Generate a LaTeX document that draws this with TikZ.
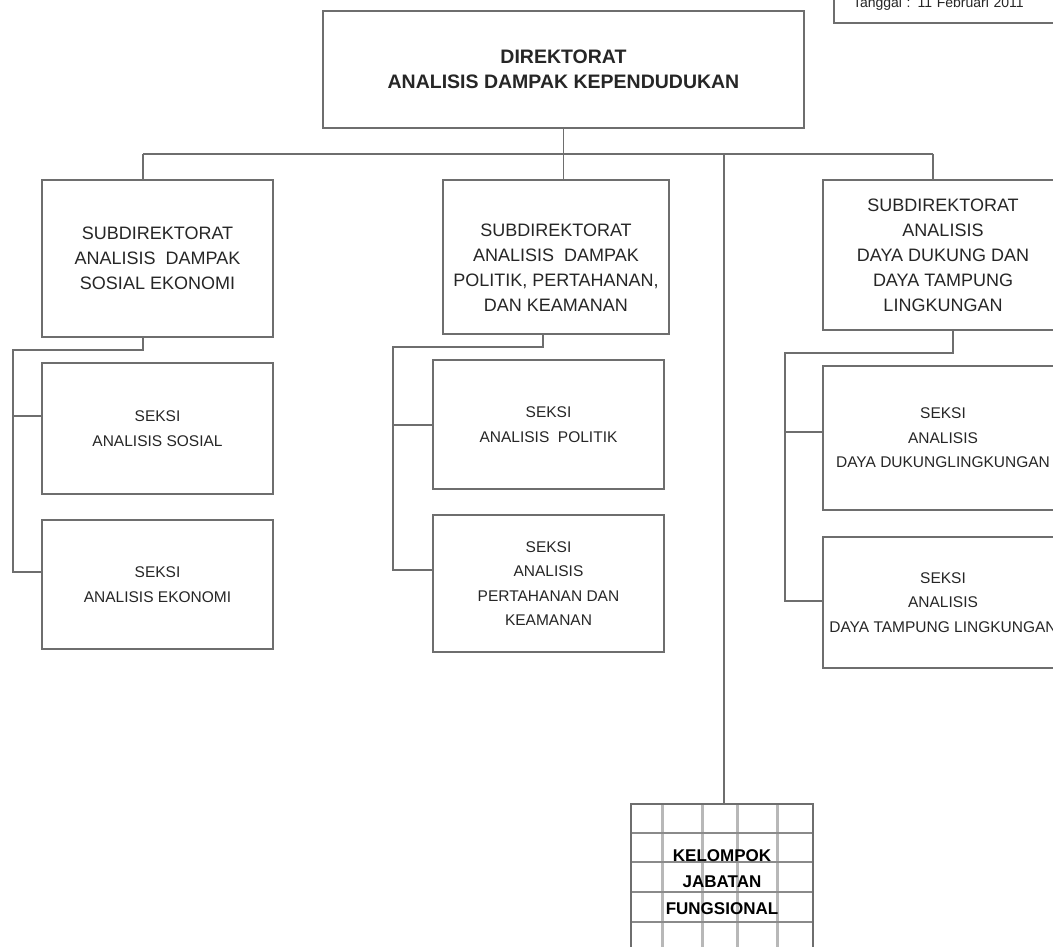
\documentclass[tikz,border=0pt]{standalone}
\usepackage{fontspec}
\setmainfont{Liberation Sans}
\usetikzlibrary{positioning,calc}
\definecolor{lineGray}{HTML}{6E6E6E}
\definecolor{gridGray}{HTML}{B8B8B8}
\definecolor{gridDark}{HTML}{8A8A8A}
\tikzset{
  every picture/.style={line width=1.6pt},
  sbox/.style={draw=lineGray, line width=2pt, inner sep=0pt, align=center, text=black!85},
  sdim/.style 2 args={minimum width=#1pt, minimum height=#2pt},
  sdir/.style={sbox, font=\fontsize{19.5}{25}\selectfont\bfseries},
  ssub/.style={sbox, font=\fontsize{18}{25}\selectfont},
  stxt/.style={inner sep=0pt, align=center, text=black!85},
  sseksi/.style={sbox, font=\fontsize{15.5}{24.5}\selectfont},
  sjab/.style={sbox, font=\fontsize{17}{26.5}\selectfont\bfseries, text=black},
  sline/.style={draw=lineGray, line width=1.7pt},
  sgridv/.style={draw=gridGray, line width=3pt},
  sgridh/.style={draw=gridDark, line width=2pt},
}

\begin{document}
\begin{tikzpicture}[x=1pt, y=-1pt]
\fill[white] (0,0) rectangle (1053,947);
\useasboundingbox (0,0) rectangle (1053,947);
\clip (0,0) rectangle (1053,947);

% date box, cut by the page edge
\node[sbox, anchor=south west, align=left, text width=200pt, inner xsep=19pt,
  minimum height=38pt, font=\fontsize{14}{16}\selectfont] (tgl) at (833,24)
  {Tanggal : 11 Februari 2011};

% head
\node[sdir, sdim={481}{117}] (dir) at (563.5,69.5)
  {DIREKTORAT\\ANALISIS DAMPAK KEPENDUDUKAN};

% subdirektorat
\node[ssub, sdim={231}{157}] (sub1) at (157.5,258.5)
  {SUBDIREKTORAT\\ANALISIS\ \ DAMPAK\\SOSIAL EKONOMI};
\node[ssub, sdim={226}{154}] (sub2) at (556,257) {};
\node[stxt, font=\fontsize{18}{25}\selectfont] (sub2txt) at ($(sub2.center)+(0,11)$)
  {SUBDIREKTORAT\\ANALISIS\ \ DAMPAK\\POLITIK, PERTAHANAN,\\DAN KEAMANAN};
\node[ssub, sdim={240}{150}] (sub3) at (943,255)
  {SUBDIREKTORAT\\ANALISIS\\DAYA DUKUNG DAN\\DAYA TAMPUNG\\LINGKUNGAN};

% seksi
\node[sseksi, sdim={231}{131}] (sk11) at (157.5,428.5) {SEKSI\\ANALISIS SOSIAL};
\node[sseksi, sdim={231}{129}] (sk12) at (157.5,584.5) {SEKSI\\ANALISIS EKONOMI};
\node[sseksi, sdim={231}{129}] (sk21) at (548.5,424.5) {SEKSI\\ANALISIS\ \ POLITIK};
\node[sseksi, sdim={231}{137}] (sk22) at (548.5,583.5)
  {SEKSI\\ANALISIS\\PERTAHANAN DAN\\KEAMANAN};
\node[sseksi, sdim={240}{144}] (sk31) at (943,438)
  {SEKSI\\ANALISIS\\DAYA DUKUNGLINGKUNGAN};
\node[sseksi, sdim={240}{131}] (sk32) at (943,602.5)
  {SEKSI\\ANALISIS\\DAYA TAMPUNG LINGKUNGAN};

% kelompok jabatan fungsional (grid box)
\foreach \gx in {662,702,737,777}
  \draw[sgridv] (\gx,805) -- (\gx,960);
\foreach \gy in {833,862,892,922}
  \draw[sgridh] (631,\gy) -- (813,\gy);
\node[sjab, sdim={182}{156}] (jab) at (722,882)
  {KELOMPOK\\JABATAN\\FUNGSIONAL};

% bus from the head
\coordinate (busL) at (143,154);
\coordinate (busR) at (933,154);
\coordinate (busF) at (724,154);
\draw[sline] (busL) -- (busR);
\draw[sline] (dir.south) -- (dir.south |- busL);
\draw[sline] (busL) -- (busL |- sub1.north);
\draw[sline] (dir.south |- busL) -- (dir.south |- sub2.north);
\draw[sline] (busR) -- (busR |- sub3.north);
\draw[sline] (busF) -- (busF |- jab.north);

% left tree
\coordinate (trL) at (13,350);
\coordinate (brL1) at (13,416);
\coordinate (brL2) at (13,572);
\draw[sline] (busL |- sub1.south) |- (trL) -- (brL2) -- (brL2 -| sk12.west);
\draw[sline] (brL1) -- (brL1 -| sk11.west);

% middle tree
\coordinate (trM) at (393,347);
\coordinate (brM1) at (393,425);
\coordinate (brM2) at (393,570);
\draw[sline] (543,0 |- sub2.south) |- (trM) -- (brM2) -- (brM2 -| sk22.west);
\draw[sline] (brM1) -- (brM1 -| sk21.west);

% right tree
\coordinate (trR) at (785,353);
\coordinate (brR1) at (785,432);
\coordinate (brR2) at (785,601);
\draw[sline] (953,0 |- sub3.south) |- (trR) -- (brR2) -- (brR2 -| sk32.west);
\draw[sline] (brR1) -- (brR1 -| sk31.west);
\end{tikzpicture}
\end{document}
